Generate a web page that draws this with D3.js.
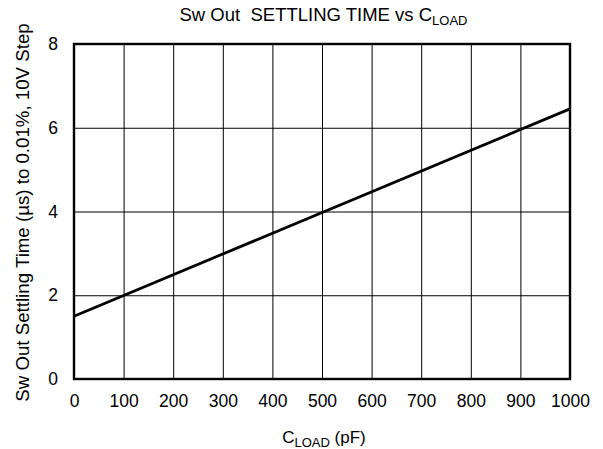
<!DOCTYPE html>
<html><head><meta charset="utf-8">
<script src="https://cdn.jsdelivr.net/npm/d3@7"></script>
<style>body{margin:0;background:#fff}svg text{font-family:"Liberation Sans",Arial,sans-serif;fill:#000}</style>
</head><body>
<svg id="c" width="603" height="449"></svg>
<script>
const xTicks = [0,100,200,300,400,500,600,700,800,900,1000];
const yTicks = [0,2,4,6,8];
const cload = [0, 1000];
const settling = [1.5, 6.45];

const svg = d3.select("#c");
const m = {l:74, r:570, t:44, b:379};
const x = d3.scaleLinear().domain([0,1000]).range([m.l, m.r]);
const y = d3.scaleLinear().domain([0,8]).range([m.b, m.t]);
const F = "Liberation Sans, Arial, sans-serif";

// grid
svg.append("g").attr("transform",`translate(0,${m.b})`)
  .call(d3.axisBottom(x).tickValues(xTicks).tickSize(-(m.b-m.t)).tickFormat(""))
  .call(g=>g.select(".domain").remove())
  .call(g=>g.selectAll("line").attr("stroke","#000").attr("stroke-width",1));
svg.append("g").attr("transform",`translate(${m.l},0)`)
  .call(d3.axisLeft(y).tickValues(yTicks).tickSize(-(m.r-m.l)).tickFormat(""))
  .call(g=>g.select(".domain").remove())
  .call(g=>g.selectAll("line").attr("stroke","#000").attr("stroke-width",1));

// tick labels
svg.append("g").attr("transform",`translate(0,${m.b})`)
  .call(d3.axisBottom(x).tickValues(xTicks).tickSize(0).tickPadding(16).tickFormat(d3.format("d")))
  .call(g=>g.select(".domain").remove())
  .call(g=>g.selectAll("text").attr("font-size",17.5).attr("font-family",F));
svg.append("g").attr("transform",`translate(${m.l},0)`)
  .call(d3.axisLeft(y).tickValues(yTicks).tickSize(0).tickPadding(16).tickFormat(d3.format("d")))
  .call(g=>g.select(".domain").remove())
  .call(g=>g.selectAll("text").attr("font-size",17.5).attr("font-family",F));

// frame
svg.append("rect").attr("x",m.l).attr("y",m.t).attr("width",m.r-m.l).attr("height",m.b-m.t)
  .attr("fill","none").attr("stroke","#000").attr("stroke-width",2.4);

// data line
const pts = cload.map((c,i)=>[c,settling[i]]);
svg.append("path").datum(pts)
  .attr("d", d3.line().x(d=>x(d[0])).y(d=>y(d[1])))
  .attr("fill","none").attr("stroke","#000").attr("stroke-width",2.8);

// title
const t = svg.append("text").attr("x",323.5).attr("y",21).attr("text-anchor","middle").attr("font-size",18.5);
t.append("tspan").text("Sw Out\u00a0\u00a0SETTLING TIME vs C");
t.append("tspan").attr("font-size",13).attr("dy",4).text("LOAD");

// x label
const xl = svg.append("text").attr("x",324).attr("y",443).attr("text-anchor","middle").attr("font-size",17);
xl.append("tspan").text("C");
xl.append("tspan").attr("font-size",13).attr("dy",4).text("LOAD");
xl.append("tspan").attr("dy",-4).text(" (pF)");

// y label, sized so that it spans the same length as in the reference
const yl = svg.append("text").attr("transform","translate(29,212.5) rotate(-90)").attr("text-anchor","middle")
  .attr("font-size",17.5).text("Sw Out Settling Time (µs) to 0.01%, 10V Step");
const len = yl.node().getComputedTextLength();
if (len > 0) yl.attr("font-size", (17.5*379/len).toFixed(2));
</script>
</body></html>
